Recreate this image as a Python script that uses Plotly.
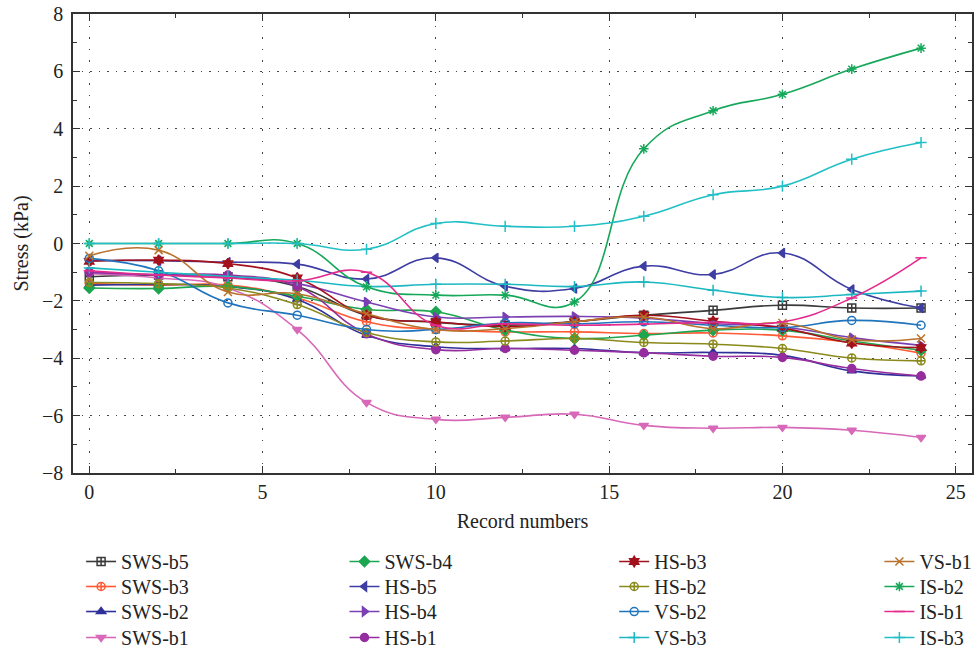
import plotly.graph_objects as go

record = [0, 2, 4, 6, 8, 10, 12, 14, 16, 18, 20, 22, 24]

SWS_b5 = [-1.16, -1.1, -1.16, -1.5, -2.5, -2.75, -2.85, -2.72, -2.5, -2.33, -2.15, -2.25, -2.25]
SWS_b3 = [-1.4, -1.45, -1.45, -1.9, -2.73, -3.0, -3.08, -3.08, -3.14, -3.12, -3.22, -3.45, -3.82]
SWS_b2 = [-1.45, -1.43, -1.5, -1.95, -3.2, -3.6, -3.66, -3.66, -3.81, -3.8, -3.9, -4.44, -4.62]
SWS_b1 = [-1.05, -1.2, -1.55, -3.0, -5.54, -6.13, -6.06, -5.95, -6.34, -6.44, -6.41, -6.51, -6.76]
SWS_b4 = [-1.55, -1.57, -1.5, -1.84, -2.3, -2.38, -3.02, -3.31, -3.2, -3.02, -3.02, -3.4, -3.72]
HS_b5 = [-0.6, -0.6, -0.65, -0.72, -1.24, -0.5, -1.49, -1.57, -0.79, -1.08, -0.33, -1.6, -2.25]
HS_b4 = [-1.0, -1.1, -1.15, -1.4, -2.04, -2.56, -2.56, -2.54, -2.6, -2.79, -2.91, -3.28, -3.55]
HS_b1 = [-1.0, -1.08, -1.1, -1.5, -3.15, -3.7, -3.66, -3.72, -3.81, -3.93, -3.97, -4.36, -4.62]
HS_b3 = [-0.62, -0.58, -0.7, -1.2, -2.5, -2.73, -2.9, -2.73, -2.5, -2.71, -2.95, -3.47, -3.63]
HS_b2 = [-1.36, -1.4, -1.55, -2.13, -3.1, -3.43, -3.4, -3.31, -3.45, -3.51, -3.66, -3.99, -4.09]
VS_b2 = [-0.52, -0.95, -2.07, -2.5, -3.0, -3.0, -2.77, -2.8, -2.73, -2.85, -2.93, -2.68, -2.85]
VS_b3 = [-0.85, -1.0, -1.15, -1.28, -1.5, -1.42, -1.42, -1.5, -1.34, -1.63, -1.88, -1.78, -1.66]
VS_b1 = [-0.43, -0.23, -1.69, -1.75, -2.45, -3.0, -2.97, -2.73, -2.56, -2.97, -2.77, -3.35, -3.31]
IS_b2 = [0, 0, 0, 0, -1.51, -1.8, -1.8, -2.04, 3.3, 4.63, 5.2, 6.08, 6.81]
IS_b1 = [-0.95, -1.1, -1.2, -1.3, -1.0, -2.85, -2.8, -2.85, -2.81, -2.75, -2.73, -1.9, -0.5]
IS_b3 = [0, 0, 0, 0, -0.2, 0.7, 0.6, 0.6, 0.95, 1.7, 2.0, 2.94, 3.52]

x_ticks = [0, 5, 10, 15, 20, 25]
y_ticks = [-8, -6, -4, -2, 0, 2, 4, 6, 8]

# (name, values, color, symbol)  -- legend laid out column by column, 4 per column
series = [
    ("SWS-b5", SWS_b5, "#3a3a3a", "square-cross-open"),
    ("SWS-b3", SWS_b3, "#ff5b35", "circle-cross-open"),
    ("SWS-b2", SWS_b2, "#30309a", "triangle-up"),
    ("SWS-b1", SWS_b1, "#d868b8", "triangle-down"),
    ("SWS-b4", SWS_b4, "#1ba64f", "diamond"),
    ("HS-b5", HS_b5, "#3d3da3", "triangle-left"),
    ("HS-b4", HS_b4, "#7a40b3", "triangle-right"),
    ("HS-b1", HS_b1, "#962d9e", "circle"),
    ("HS-b3", HS_b3, "#a3111c", "hexagram"),
    ("HS-b2", HS_b2, "#8a8a1c", "circle-cross-open"),
    ("VS-b2", VS_b2, "#1f74bd", "circle-open"),
    ("VS-b3", VS_b3, "#1cb8c2", "cross-thin-open"),
    ("VS-b1", VS_b1, "#b9722c", "x-thin-open"),
    ("IS-b2", IS_b2, "#16a85a", "asterisk-open"),
    ("IS-b1", IS_b1, "#e42a8c", "line-ew-open"),
    ("IS-b3", IS_b3, "#22c0c6", "cross-thin-open"),
]

FONT = "Liberation Serif, Times New Roman, serif"
col_x = [0.009, 0.302, 0.602, 0.897]
row_y = [-0.1503, -0.2048, -0.2593, -0.3159]

fig = go.Figure()
legend_layouts = {}
for i, (name, vals, color, sym) in enumerate(series):
    lid = "legend" if i == 0 else "legend%d" % (i + 1)
    fig.add_trace(go.Scatter(
        x=record, y=vals, name=name, mode="lines+markers",
        line=dict(color=color, width=1.6, shape="spline", smoothing=1.3),
        marker=dict(symbol=sym, size=8, color=color, line=dict(color=color, width=1.5)),
        legend=lid,
    ))
    col, row = divmod(i, 4)
    legend_layouts[lid] = dict(
        orientation="v", x=col_x[col], y=row_y[row], xanchor="left", yanchor="top",
        font=dict(family=FONT, size=20, color="#222"),
        bgcolor="rgba(0,0,0,0)", borderwidth=0,
    )

fig.update_layout(
    width=974, height=654,
    margin=dict(l=73, r=2, t=14, b=181, autoexpand=False),
    paper_bgcolor="white", plot_bgcolor="white",
    font=dict(family=FONT, size=20, color="#222"),
    showlegend=True,
    xaxis=dict(
        range=[-0.47, 25.47], tickvals=x_ticks, ticktext=[str(v) for v in x_ticks],
        ticks="inside", ticklen=7, tickwidth=1.2, tickcolor="#333",
        showline=True, linecolor="#333", linewidth=1.5, mirror="ticks",
        showgrid=True, gridcolor="#444", gridwidth=1, griddash="1.5px,10px",
        minor=dict(dtick=2.5, tick0=0, ticks="inside", ticklen=4, tickcolor="#333", showgrid=False),
        zeroline=False, ticklabelstandoff=0,
        title=dict(text="Record numbers", font=dict(family=FONT, size=20), standoff=12),
        tickfont=dict(family=FONT, size=20),
    ),
    yaxis=dict(
        range=[-8, 8], tickvals=y_ticks, ticktext=[("\u2212" + str(-v)) if v < 0 else str(v) for v in y_ticks],
        ticks="inside", ticklen=7, tickwidth=1.2, tickcolor="#333",
        showline=True, linecolor="#333", linewidth=1.5, mirror="ticks",
        showgrid=True, gridcolor="#444", gridwidth=1, griddash="1.5px,7px",
        minor=dict(dtick=1, tick0=0, ticks="inside", ticklen=4, tickcolor="#333", showgrid=False),
        zeroline=False, ticklabelstandoff=4,
        title=dict(text="Stress (kPa)", font=dict(family=FONT, size=20), standoff=8),
        tickfont=dict(family=FONT, size=20),
    ),
)
fig.update_layout(**legend_layouts)

fig.write_html("out.html")
